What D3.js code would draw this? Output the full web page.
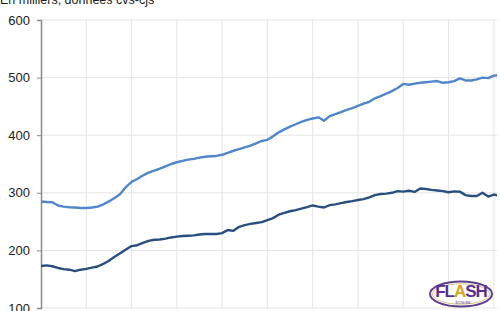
<!DOCTYPE html>
<html>
<head>
<meta charset="utf-8">
<script src="https://cdn.jsdelivr.net/npm/d3@7"></script>
<style>
  body { margin: 0; background: #fff; }
  svg { display: block; font-family: "Liberation Sans", Arial, sans-serif; }
</style>
</head>
<body>
<div id="chart"></div>
<script>
// Quarterly series, index 0 = first quarter shown
var upper = [285, 284, 283.5, 278, 276, 275, 274.5, 273.6, 273.5, 274.5,
  276, 280, 285, 291, 298, 310, 319, 324, 330, 335,
  338.5, 342, 346, 350, 353, 355.5, 357.5, 359, 361, 362.5,
  363.5, 364, 366, 369.5, 373, 376, 379, 382, 386, 390,
  392, 398, 405, 410, 415, 419, 423, 426.5, 429, 431,
  425, 433, 436.5, 440, 444, 447, 451, 455, 458, 464,
  468, 472, 476.5, 482, 489, 487.5, 489.5, 491, 492, 493,
  494, 491, 492, 494, 498.5, 495, 495, 497, 500, 499,
  503.5, 504.5];
var lower = [173, 174, 172.5, 169.5, 167.5, 166.5, 164, 166.5, 168, 170,
  172, 176.5, 182, 189, 195, 201.5, 207.5, 209, 213, 216.5,
  218.5, 219, 220.5, 222.5, 224, 225, 225.5, 226, 227.5, 228.5,
  228.5, 228.5, 230, 235.5, 234, 241, 244, 246, 247.5, 249,
  252.5, 256, 262, 265, 268, 270, 272.5, 275, 278, 276,
  274.5, 278.5, 280, 282, 284, 285.5, 287.5, 289, 292, 296,
  298, 298.5, 300, 303, 302, 303.5, 301.5, 307.5, 306.5, 305,
  304, 303, 301, 302.5, 302, 296, 294.5, 294.5, 300, 293.5,
  297, 295];
var yTicks = [100, 200, 300, 400, 500, 600];
var xGrid = [0, 8, 16, 24, 32, 40, 48, 56, 64, 72, 80];

var width = 500, height = 311;
var padL = 41, padR = 497, padT = 20, padB = 308;

var svg = d3.select('#chart').append('svg')
  .attr('width', width)
  .attr('height', height);

var x = d3.scaleLinear().domain([0, 80]).range([padL, 493.8]);
var y = d3.scaleLinear().domain([100, 600]).range([padB, padT]);

// title (cut off at the top in the original)
svg.append('text')
  .attr('x', 0)
  .attr('y', 4)
  .attr('font-size', 12.5)
  .attr('fill', '#222')
  .text('En milliers, données cvs-cjs');

// grid
svg.append('g').selectAll('line')
  .data(yTicks)
  .enter().append('line')
  .attr('x1', padL).attr('x2', padR)
  .attr('y1', function (d) { return y(d); })
  .attr('y2', function (d) { return y(d); })
  .attr('stroke', '#e4e4e4')
  .attr('stroke-width', 1);

svg.append('g').selectAll('line')
  .data(xGrid.slice(1))
  .enter().append('line')
  .attr('x1', function (d) { return x(d); })
  .attr('x2', function (d) { return x(d); })
  .attr('y1', padT).attr('y2', padB)
  .attr('stroke', '#e4e4e4')
  .attr('stroke-width', 1);

// y axis
var yAxis = svg.append('g')
  .attr('transform', 'translate(' + padL + ',0)')
  .call(d3.axisLeft(y).tickValues(yTicks).tickSize(4).tickPadding(7));
yAxis.select('.domain').attr('stroke', '#8a8a8a').attr('stroke-width', 1.5);
yAxis.selectAll('.tick line').attr('stroke', '#8a8a8a');
yAxis.selectAll('.tick text')
  .attr('font-size', 13)
  .attr('fill', '#222')
  .attr('font-family', '"Liberation Sans", Arial, sans-serif');

svg.append('clipPath').attr('id', 'clip')
  .append('rect')
  .attr('x', padL).attr('y', 0)
  .attr('width', padR - padL).attr('height', height);

var line = d3.line()
  .x(function (d, i) { return x(i); })
  .y(function (d) { return y(d); });

svg.append('path')
  .datum(upper)
  .attr('clip-path', 'url(#clip)')
  .attr('d', line)
  .attr('fill', 'none')
  .attr('stroke', '#4f86cc')
  .attr('stroke-width', 2.4)
  .attr('stroke-linejoin', 'round');

svg.append('path')
  .datum(lower)
  .attr('clip-path', 'url(#clip)')
  .attr('d', line)
  .attr('fill', 'none')
  .attr('stroke', '#284f7f')
  .attr('stroke-width', 2.4)
  .attr('stroke-linejoin', 'round');

// logo
var logo = svg.append('g').attr('transform', 'translate(461,294)');
logo.append('ellipse')
  .attr('rx', 31).attr('ry', 12.5)
  .attr('fill', '#fff')
  .attr('stroke', '#5b3f8c')
  .attr('stroke-width', 2);
logo.append('ellipse')
  .attr('rx', 28.5).attr('ry', 10.2)
  .attr('fill', 'none')
  .attr('stroke', '#c9b56a')
  .attr('stroke-width', 0.8);
var word = logo.append('text')
  .attr('x', 0).attr('y', 3)
  .attr('text-anchor', 'middle')
  .attr('font-size', 17)
  .attr('font-weight', 'bold')
  .attr('fill', '#5b2d8e')
  .attr('letter-spacing', -1);
word.append('tspan').text('FL');
word.append('tspan').attr('fill', '#d9a520').text('A');
word.append('tspan').text('SH');
logo.append('text')
  .attr('x', 2).attr('y', 10)
  .attr('text-anchor', 'middle')
  .attr('font-size', 2.8)
  .attr('fill', '#5b2d8e')
  .text('ÉCONOMIE');
</script>
</body>
</html>
